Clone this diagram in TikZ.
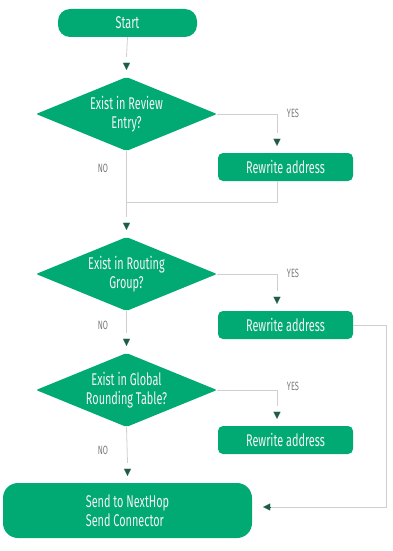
\documentclass[tikz,border=0pt]{standalone}
\usepackage{fontspec}
\setmainfont{Fira Sans}[FakeStretch=0.64]
\newfontfamily\smallf{Fira Sans}[FakeStretch=0.62]
\usetikzlibrary{shapes.geometric,arrows.meta,calc}
\definecolor{boxgreen}{HTML}{00AA72}
\definecolor{tipgreen}{HTML}{1F5C45}
\definecolor{linegray}{HTML}{CFCFCF}
\definecolor{labgray}{HTML}{7A7A7A}
\definecolor{txtwhite}{HTML}{F4F4F4}
\tikzset{
  box/.style={fill=boxgreen, draw=none, text=txtwhite, font=\fontsize{17}{18.5}\selectfont, inner sep=0pt},
  rbox/.style={box, rounded corners=5pt, minimum width=135pt, minimum height=28pt},
  dec/.style={box, diamond, aspect=2.45, minimum width=181pt, minimum height=74pt, align=center, rounded corners=2pt},
  flow/.style={draw=linegray, line width=0.8pt},
  tipc/.style={-{Triangle[length=7pt,width=7pt]}, draw=tipgreen, fill=tipgreen, line width=0.1pt},
  lab/.style={text=labgray, font=\smallf\fontsize{12}{13}\selectfont, inner sep=0pt}
}
\begin{document}
\begin{tikzpicture}[x=1pt,y=-1pt]
\useasboundingbox (0,0) rectangle (392,551);
% nodes
\node[box, rounded corners=12pt, minimum width=139pt, minimum height=28pt] (start) at (127.5,23) {Start};
\node[dec] (d1) at (126.5,114) {Exist in Review\\Entry?};
\node[rbox] (r1) at (285.5,167) {Rewrite address};
\node[dec] (d2) at (126.5,274) {Exist in Routing\\Group?};
\node[rbox] (r2) at (285.5,325) {Rewrite address};
\node[dec] (d3) at (126.5,390) {Exist in Global\\Rounding Table?};
\node[rbox] (r3) at (285.5,440) {Rewrite address};
\node[box, rounded corners=15pt, minimum width=249pt, minimum height=55pt, align=left] (end) at (127.5,510.5) {Send to NextHop\\Send Connector};
% labels
\node[lab] (y1) at (293,113) {YES};
\node[lab] (n1) at (103,168) {NO};
\node[lab] (y2) at (293,273) {YES};
\node[lab] (n2) at (103,325) {NO};
\node[lab] (y3) at (293,386) {YES};
\node[lab] (n3) at (103,450) {NO};
% helper coordinates
\coordinate (r1t) at ($(r1.north)+(-8.5,0)$);
\coordinate (r1b) at ($(r1.south)+(-8.5,0)$);
\coordinate (r2t) at ($(r2.north)+(-8.5,0)$);
\coordinate (r3t) at ($(r3.north)+(-8.5,0)$);
\coordinate (m1) at ($(d1.south)+(0,51)$);
\coordinate (c2) at ($(r2.east)+(33,0)$);
% vertical main flow
\draw[flow] (start.south) -- ($(d1.north)+(0,-20)$);
\draw[tipc] ($(d1.north)+(0,-14)$) -- ($(d1.north)+(0,-7)$);
\draw[flow] (d1.south) -- ($(d2.north)+(0,-20)$);
\draw[tipc] ($(d2.north)+(0,-14)$) -- ($(d2.north)+(0,-7)$);
\draw[flow] (d2.south) -- ($(d3.north)+(0,-20)$);
\draw[tipc] ($(d3.north)+(0,-14)$) -- ($(d3.north)+(0,-7)$);
\draw[flow] (d3.south) -- ($(end.north)+(0,-20)$);
\draw[tipc] ($(end.north)+(0,-14)$) -- ($(end.north)+(0,-7)$);
% yes branches
\draw[flow] (d1.east) -| ($(r1t)+(0,-20)$);
\draw[tipc] ($(r1t)+(0,-14)$) -- ($(r1t)+(0,-7)$);
\draw[flow] (r1b) |- (m1);
\draw[flow] (d2.east) -| ($(r2t)+(0,-20)$);
\draw[tipc] ($(r2t)+(0,-14)$) -- ($(r2t)+(0,-7)$);
\draw[flow] (d3.east) -| ($(r3t)+(0,-20)$);
\draw[tipc] ($(r3t)+(0,-14)$) -- ($(r3t)+(0,-7)$);
% return from r2
\draw[flow] (r2.east) -- (c2) |- ($(end.east)+(19,-3.5)$);
\draw[tipc] ($(end.east)+(18,-3.5)$) -- ($(end.east)+(11,-3.5)$);
\end{tikzpicture}
\end{document}
